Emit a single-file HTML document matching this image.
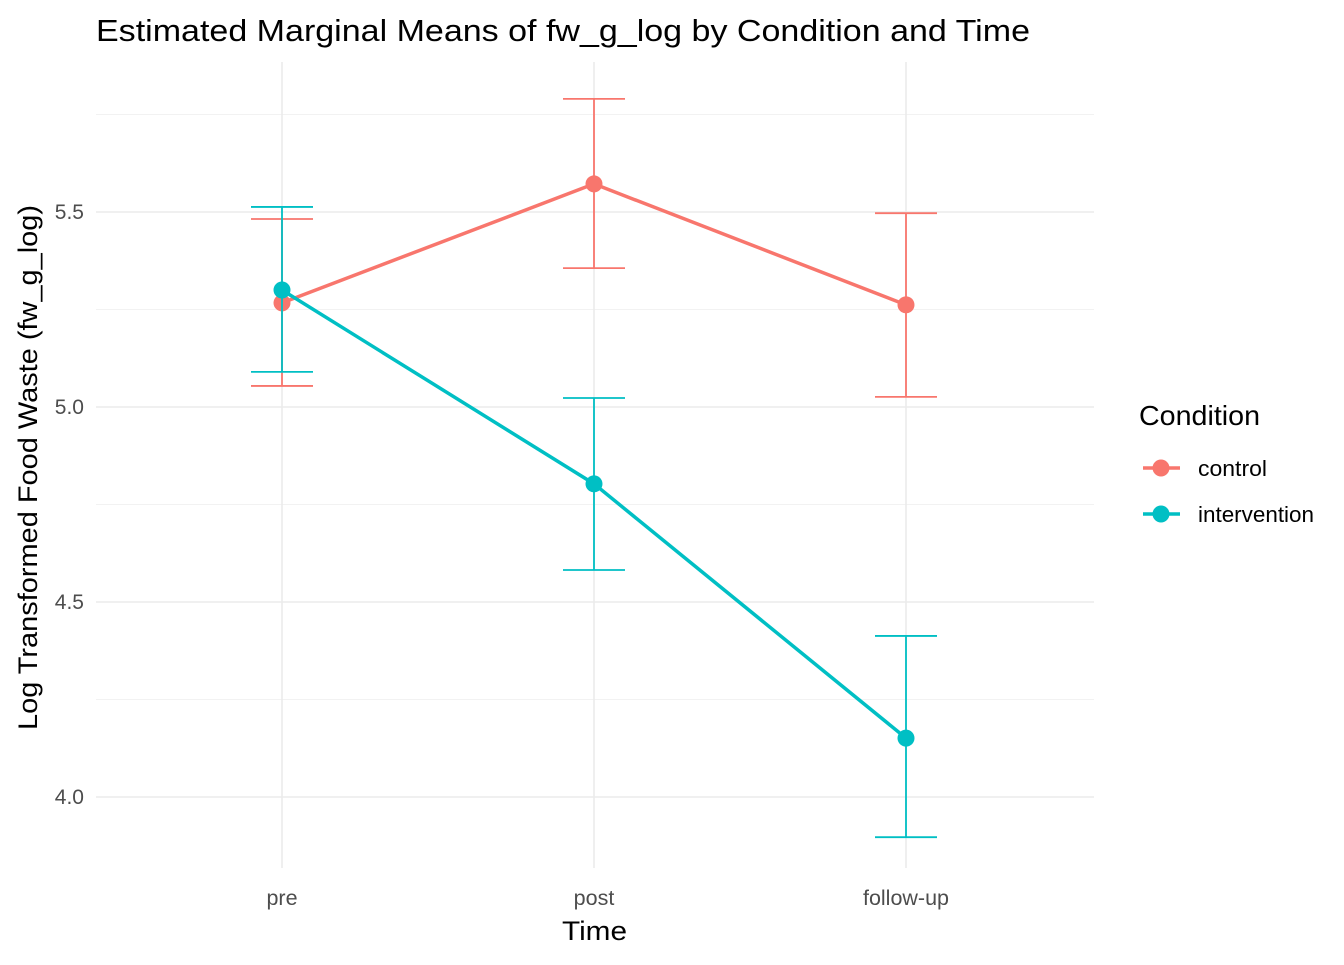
<!DOCTYPE html>
<html><head><meta charset="utf-8"><style>
body{margin:0;background:#fff;}
svg text{font-family:"Liberation Sans",Arial,sans-serif;}
</style></head><body>
<svg id="chart" width="1344" height="960" xmlns="http://www.w3.org/2000/svg">
<text x="96" y="41" font-size="31" textLength="934" lengthAdjust="spacingAndGlyphs" fill="#000">Estimated Marginal Means of fw_g_log by Condition and Time</text>
<g id="grid"></g>
<g id="axes"></g>
<g id="series"></g>
<text x="562" y="940" font-size="27" textLength="65" lengthAdjust="spacingAndGlyphs" fill="#000">Time</text>
<text transform="translate(37,730) rotate(-90)" font-size="27" textLength="525" lengthAdjust="spacingAndGlyphs" fill="#000">Log Transformed Food Waste (fw_g_log)</text>
<g>
<text x="1139" y="425" font-size="28" textLength="121" lengthAdjust="spacingAndGlyphs" fill="#000">Condition</text>
<g>
<line x1="1143" y1="468" x2="1180" y2="468" stroke="#F8766D" stroke-width="3.5"/>
<circle cx="1161" cy="468" r="8.5" fill="#F8766D"/>
<text x="1198" y="476" font-size="22" textLength="69" lengthAdjust="spacingAndGlyphs" fill="#000">control</text></g>
<g>
<line x1="1143" y1="514" x2="1180" y2="514" stroke="#00BFC4" stroke-width="3.5"/>
<circle cx="1161" cy="514" r="8.5" fill="#00BFC4"/>
<text x="1198" y="522" font-size="22" textLength="116" lengthAdjust="spacingAndGlyphs" fill="#000">intervention</text></g>
</g>
</svg>
<script>
const categories = ["pre","post","follow-up"];
const controlMean = [5.267, 5.572, 5.262];
const controlLow = [5.054, 5.356, 5.026];
const controlHigh = [5.482, 5.79, 5.497];
const interventionMean = [5.3, 4.803, 4.151];
const interventionLow = [5.09, 4.582, 3.897];
const interventionHigh = [5.513, 5.023, 4.413];
const yTicks = [4.0, 4.5, 5.0, 5.5];
const yTickLabels = ["4.0","4.5","5.0","5.5"];
const yMinor = [4.25, 4.75, 5.25, 5.75];

const NS="http://www.w3.org/2000/svg";
const L=96,R=1094,T=62,B=868;
function yS(v){return 407-(v-5.0)*390;}
function xS(i){return 282+i*312;}
function mk(tag,attrs,parent){const e=document.createElementNS(NS,tag);for(const k in attrs)e.setAttribute(k,attrs[k]);parent.appendChild(e);return e;}
const grid=document.getElementById('grid'),axes=document.getElementById('axes'),ser=document.getElementById('series');
yMinor.forEach(v=>{const l=mk('line',{x1:L,x2:R,y1:yS(v),y2:yS(v),stroke:'#f2f2f2','stroke-width':1},grid);

});
yTicks.forEach((v,i)=>{const l=mk('line',{x1:L,x2:R,y1:yS(v),y2:yS(v),stroke:'#ebebeb','stroke-width':1.6},grid);


const t=mk('text',{x:84,y:yS(v)+7,'font-size':21,fill:'#4d4d4d','text-anchor':'end'},axes);t.textContent=yTickLabels[i];

});
categories.forEach((c,i)=>{const l=mk('line',{x1:xS(i),x2:xS(i),y1:T,y2:B,stroke:'#ebebeb','stroke-width':1.6},grid);


const t=mk('text',{x:xS(i),y:905,'font-size':21.5,fill:'#4d4d4d','text-anchor':'middle'},axes);t.textContent=c;

});
function series(mean,low,high,color,name){
 const g=mk('g',{},ser);
 
 
 mean.forEach((m,i)=>{const x=xS(i);
  const eb=mk('path',{d:`M${x-31},${yS(high[i])}H${x+31}M${x},${yS(high[i])}V${yS(low[i])}M${x-31},${yS(low[i])}H${x+31}`,stroke:color,'stroke-width':1.8,fill:'none'},g);
  
  });
 const ln=mk('polyline',{points:mean.map((m,i)=>xS(i)+','+yS(m)).join(' '),stroke:color,'stroke-width':3.5,fill:'none'},g);
 
 
 mean.forEach((m,i)=>{const c=mk('circle',{cx:xS(i),cy:yS(m),r:8.5,fill:color},g);
  
  });
}
series(controlMean,controlLow,controlHigh,'#F8766D','control');
series(interventionMean,interventionLow,interventionHigh,'#00BFC4','intervention');
</script>
</body></html>
